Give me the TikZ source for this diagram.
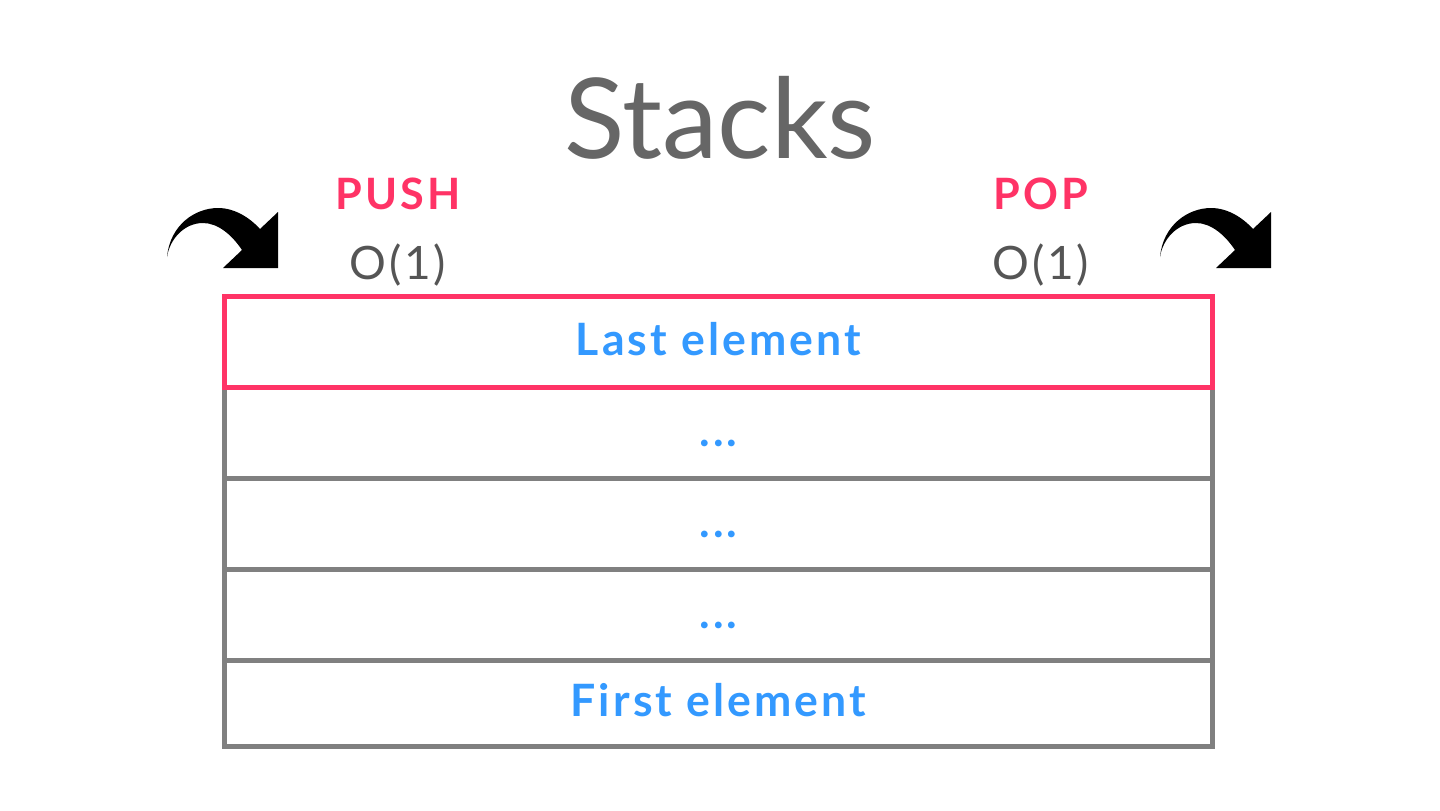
\documentclass[tikz,border=0pt]{standalone}
\usepackage{fontspec}
\setmainfont{Lato}[BoldFeatures={LetterSpace=7}]
\newfontfamily\costfont{Lato}[LetterSpace=6]
\usetikzlibrary{positioning}
\definecolor{stackpink}{RGB}{255,51,102}
\definecolor{stackblue}{RGB}{51,153,255}
\definecolor{titlegray}{RGB}{102,102,102}
\definecolor{costgray}{RGB}{85,85,85}
\definecolor{rowgray}{RGB}{128,128,128}
\tikzset{
  stackrow/.style={draw=rowgray,line width=2.5pt,minimum width=494pt,minimum height=45.5pt,
    outer sep=0pt,inner sep=0pt,text=stackblue,font=\bfseries\fontsize{22.3}{26}\selectfont,
    text height=16pt,text depth=3pt},
  toprow/.style={stackrow,draw=stackpink},
  opname/.style={anchor=base,text=stackpink,font=\bfseries\fontsize{21.6}{26}\selectfont},
  cost/.style={anchor=base,text=costgray,font=\costfont\fontsize{23}{28}\selectfont},
  curvearrow/.pic={
    \fill[black] (0,0) .. controls (3,-32) and (28,-49) .. (51,-49)
      .. controls (68,-49) and (83,-39) .. (93,-28) -- (111,-45) -- (111,11) -- (56,11) -- (75,-7)
      .. controls (65,-22) and (51,-34) .. (36,-34)
      .. controls (18,-34) and (3,-19) .. (0,0) -- cycle;
  }
}
\begin{document}
\begin{tikzpicture}[x=0.5pt,y=-0.5pt,node distance=0pt]
\useasboundingbox (0,0) rectangle (1440,810);
\node[anchor=base,text=titlegray,font=\fontsize{55.8}{66}\selectfont] (title) at (720,158) {Stacks};
\node[opname] (push) at (398,209) {PUSH};
\node[cost] (pushcost) at (398,279) {O(1)};
\node[opname] (pop) at (1041,209) {POP};
\node[cost] (popcost) at (1041,279) {O(1)};
\pic at (167,257) {curvearrow};
\pic at (1160,257) {curvearrow};
% rows, bottom to top
\node[stackrow,minimum height=43pt] (first) at (718.5,703.5) {First element};
\node[stackrow,above=of first] (mid3) {...};
\node[stackrow,above=of mid3] (mid2) {...};
\node[stackrow,above=of mid2] (mid1) {...};
\node[toprow,above=of mid1] (last) {Last element};
\end{tikzpicture}
\end{document}
